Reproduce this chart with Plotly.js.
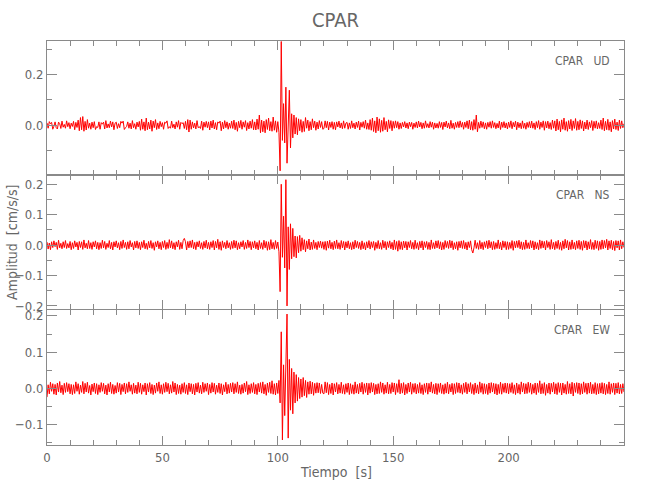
<!DOCTYPE html>
<html>
<head>
<meta charset="utf-8">
<script src="https://cdn.plot.ly/plotly-3.0.1.min.js"></script>
<style>html,body{margin:0;padding:0;background:#fff;}#chart{width:650px;height:500px;}</style>
</head>
<body>
<div id="chart"></div>
<script>
// Sampling interval of the records (s)
const dt = 0.5;
const station = "CPAR";
const components = ["UD", "NS", "EW"];

// Acceleration records, in units of 0.001 cm/s/s, one sample every dt seconds (0 .. 250 s)
const udMilli = [
 9,-12,14,5,11,-16,-4,13,-10,-15,12,6,-13,16,-8,3,-12,17,-6,10,
 -14,8,-5,15,-18,11,-9,20,-22,30,-18,34,-24,15,-19,22,-12,8,-16,12,
 -10,14,-17,-6,-9,13,-16,10,4,12,-15,18,-11,5,-10,16,-7,13,-18,8,
 12,-13,6,-10,15,8,16,-17,-10,-5,13,-12,8,-15,18,-10,6,-16,12,-7,
 15,-20,24,-16,13,-22,28,-18,12,-15,20,-24,16,-10,22,-17,9,-14,15,-6,
 10,-16,12,8,17,-13,-6,-12,16,-10,4,-15,13,-8,18,-16,11,6,10,-13,
 15,-18,22,-27,20,-16,13,-11,8,-15,18,-10,-6,-13,16,-20,12,-8,15,-10,
 13,-19,16,-11,20,-15,10,-18,13,8,16,-22,12,-15,18,-10,13,-16,8,-12,
 16,-13,20,-18,11,-24,15,-10,19,-16,13,-8,18,-21,10,-15,16,-12,22,-18,
 13,-19,24,-16,40,-30,20,-26,16,-30,22,-17,28,-22,14,-24,32,-20,17,-28,
 14,-28,-180,330,-60,85,-70,150,-150,60,138,-90,45,-50,40,-35,30,-38,25,-22,
 22,-28,15,-25,30,-12,20,-22,14,-18,25,-10,16,-20,12,-15,18,-9,14,-16,
 -13,17,-10,15,-19,12,-9,14,-16,11,-18,13,-7,16,-11,9,-14,17,-12,8,
 11,-16,9,-13,17,-10,8,-15,12,-9,16,-19,11,-8,14,-12,20,-16,9,-17,
 22,-20,28,-25,17,-30,32,-22,25,-28,19,-24,30,-18,15,-26,21,-13,18,-22,
 15,-12,17,-10,14,-16,9,-13,11,-7,14,-11,9,-14,12,-6,11,-16,8,-9,
 13,-11,16,-7,11,-14,9,-12,17,-9,6,-11,14,-8,12,-16,9,-11,7,-12,
 14,-9,11,-17,12,-7,16,-11,9,-14,19,-12,8,-16,11,-9,14,-10,17,-8,
 11,-16,12,-9,17,-14,20,-18,14,-20,22,-16,40,-26,11,-12,16,-9,13,-14,
 9,-16,11,-8,14,-12,17,-9,10,-14,7,-11,16,-17,12,-9,14,-11,9,-15,
 12,-9,17,-14,11,-7,16,-18,12,-10,9,-14,17,-12,8,-16,11,-9,14,-11,
 16,-12,9,-17,14,-10,18,-16,12,-9,17,-20,14,-11,16,-14,10,-17,20,-12,
 17,-23,24,-18,15,-26,21,-16,28,-20,14,-24,18,-15,23,-21,17,-13,26,-20,
 15,-18,21,-13,17,-23,12,-15,20,-17,13,-10,18,-21,15,-12,17,-15,10,-13,
 20,-17,28,-22,15,-18,23,-20,13,-26,18,-15,24,-17,12,-21,20,-13,17,-10,6
];
const nsMilli = [
 10,-13,7,-15,11,-8,14,-5,9,-14,16,-9,6,-12,11,-8,15,-11,5,-9,
 12,-15,8,-11,14,-6,9,-16,12,-8,11,-14,17,-9,6,-12,15,-11,8,-14,
 11,-6,14,-12,9,-15,8,-11,16,-9,12,-14,6,-8,15,-12,9,-16,11,-6,
 14,-9,8,-15,12,-11,17,-8,9,-14,11,-12,15,-6,8,-16,12,-9,14,-11,
 9,-15,11,-8,16,-12,6,-14,12,-9,15,-11,8,-17,11,-6,14,-12,9,-15,
 12,-8,15,-14,9,-11,18,-9,14,-12,8,-15,11,-6,16,-14,9,-12,15,22,
 11,-16,12,-9,14,-8,17,-12,9,-15,11,-6,14,-11,8,-14,12,-9,16,-12,
 9,-14,11,-8,15,-16,12,-9,19,-14,11,-17,14,-8,9,-12,15,-9,8,-14,
 12,-11,16,-9,14,-15,8,-12,11,-6,15,-14,9,-11,17,-8,12,-15,11,-9,
 14,-12,9,-16,15,-11,8,-14,16,-9,12,-17,11,-15,18,-12,9,-14,15,-11,
 10,-22,-153,200,-40,95,-75,215,-200,60,-80,70,-45,55,-38,30,-42,28,-25,32,
 -20,24,-15,18,-22,14,-12,20,-16,10,-14,17,-11,9,-15,12,-8,13,-10,11,
 -14,12,-17,13,-10,16,-12,9,-15,13,-11,17,-12,8,-14,15,-9,12,-16,11,
 -9,14,-12,8,-15,11,-13,16,-8,12,-11,9,-15,14,-12,8,-16,11,-9,15,
 -13,11,-8,12,-17,9,-11,15,-12,8,-14,16,-9,12,-15,11,-8,14,-12,9,
 -16,17,-14,12,-20,15,-14,11,-15,13,-9,12,-16,11,-8,15,-12,9,-14,16,
 -11,8,-15,12,-9,14,-16,11,-8,12,-14,9,-15,17,-11,8,-12,14,-9,15,
 -12,11,-16,9,-14,15,-8,12,-11,16,-9,14,-15,8,-12,11,-17,12,-9,14,
 -11,15,-12,9,-16,11,-8,14,-15,-26,-9,16,-11,8,-14,15,-12,9,-15,11,
 -8,14,-12,16,-9,11,-15,12,-14,8,-11,17,-12,9,-16,14,-8,12,-15,11,
 -14,9,-11,15,-17,12,-9,14,-8,16,-12,11,-15,9,-14,17,-11,8,-12,15,
 -9,14,-16,11,-12,8,-15,17,-11,14,-9,12,-16,15,-8,11,-14,18,-12,9,
 -15,12,-11,16,-14,9,-17,14,-12,19,-9,15,-16,11,-14,17,-12,9,-15,14,
 -11,16,-14,12,-17,15,-9,14,-16,11,-12,18,-14,9,-15,16,-11,14,-17,12,
 -14,17,-12,15,-9,19,-16,14,-11,16,-15,12,-18,15,-9,14,-16,17,-12,11,-8
];
const ewMilli = [
 -24,10,-15,17,-8,13,-16,11,-18,15,-10,19,-12,9,-17,14,-11,16,-9,13,
 -15,11,-17,10,-14,18,-8,13,-16,9,-11,19,-15,14,-10,17,-13,8,-18,12,
 -9,15,-14,13,-17,10,-11,16,-8,14,-15,9,-18,13,-10,17,-14,11,-16,8,
 -13,16,-10,14,-17,11,-9,15,-15,13,-11,18,-8,10,-16,14,-13,9,-15,17,
 -11,14,-16,10,-9,15,-18,13,-10,16,-14,11,-17,9,-13,15,-8,18,-14,10,
 -16,13,-11,17,-9,14,-15,10,-13,19,-10,15,-17,11,-14,9,-16,13,-11,16,
 -14,10,-17,15,-9,13,-15,11,-18,14,-10,16,-13,9,-15,17,-11,13,-8,15,
 -17,11,-13,16,-10,14,-16,9,-11,15,-14,13,-18,10,-9,17,-15,11,-13,14,
 -10,16,-15,13,-11,18,-14,9,-16,11,-13,15,-9,19,-17,10,-14,13,-11,16,
 -15,11,-17,14,-10,16,-13,18,-15,11,-19,15,-11,17,-14,21,-16,13,-18,15,
 -14,22,-40,156,-142,65,-75,50,205,-137,80,-60,55,-70,45,-40,38,-35,30,-28,
 26,-24,30,-20,22,-25,18,-16,20,-15,17,-19,14,-13,16,-12,15,-14,11,-13,
 -15,18,-12,16,-17,11,-14,15,-18,13,-10,16,-15,11,-13,17,-14,10,-16,13,
 -11,15,-17,13,-14,10,-16,18,-13,11,-15,14,-10,17,-16,13,-11,15,-18,14,
 -13,16,-10,14,-17,11,-15,13,-14,18,-11,15,-16,10,-13,17,-15,11,-14,16,
 -10,15,-17,13,-11,24,-15,14,-13,16,-18,11,-14,15,-10,17,-16,13,-11,14,
 -15,11,-13,16,-14,10,-17,13,-11,15,-16,14,-10,18,-13,11,-15,14,-17,13,
 -11,15,-14,10,-16,13,-13,17,-15,11,-10,14,-17,13,-14,16,-11,15,-13,10,
 -16,14,-11,17,-15,13,-10,16,-14,11,-17,15,-13,10,-15,18,-11,14,-16,13,
 -14,11,-17,15,-13,16,-10,14,-15,13,-18,11,-14,17,-16,13,-11,15,-13,14,
 -15,13,-11,16,-14,10,-17,15,-13,11,-16,18,-10,14,-15,13,-14,17,-11,15,
 -16,11,-13,15,-17,14,-11,21,-15,13,-14,16,-19,11,-13,15,-16,14,-10,17,
 -15,13,-17,16,-11,14,-18,15,-13,11,-16,19,-14,13,-15,17,-21,14,-11,16,
 -14,15,-17,13,-15,18,-11,14,-16,15,-13,17,-15,11,-14,16,-17,13,-15,14,
 -13,16,-15,14,-17,11,-14,18,-16,13,-11,15,-17,14,-13,16,-15,11,-14,13,-10
];

const xTickVals = [0, 50, 100, 150, 200];
const xTickText = ["0", "50", "100", "150", "200"];

const toUnits = arr => arr.map(v => v / 1000);
const timeOf = arr => arr.map((_, i) => i * dt);

const FONT = "'Liberation Sans Narrow', 'DejaVu Sans Condensed', 'Arial Narrow', sans-serif";
const TXT = "#666666";
const AX = "#8a8a8a";
const RED = "#ff0000";

const series = [udMilli, nsMilli, ewMilli];
const traces = series.map((s, k) => ({
  type: "scatter", mode: "lines",
  x: timeOf(s), y: toUnits(s),
  xaxis: k === 0 ? "x" : "x" + (k + 1),
  yaxis: k === 0 ? "y" : "y" + (k + 1),
  line: {color: RED, width: 1},
  hoverinfo: "skip", showlegend: false
}));

function xAx(anchor, labels) {
  return {
    anchor: anchor, domain: [0, 1], range: [0, 250],
    tickmode: "array", tickvals: xTickVals, ticktext: xTickText,
    showticklabels: labels,
    ticks: "inside", ticklen: 9, tickwidth: 1, tickcolor: AX,
    minor: {dtick: 10, tick0: 0, ticks: "inside", ticklen: 5, tickwidth: 1, tickcolor: AX, showgrid: false},
    showline: true, linecolor: AX, linewidth: 1, mirror: "ticks",
    showgrid: false, zeroline: false,
    tickfont: {family: FONT, size: 13, color: TXT}
  };
}
function yAx(anchor, domain, range, dtick, minorD) {
  return {
    anchor: anchor, domain: domain, range: range,
    tickmode: "linear", tick0: 0, dtick: dtick, tickformat: ".1f",
    ticks: "inside", ticklen: 10, tickwidth: 1, tickcolor: AX,
    minor: {dtick: minorD, tick0: 0, ticks: "inside", ticklen: 5, tickwidth: 1, tickcolor: AX, showgrid: false},
    showline: true, linecolor: AX, linewidth: 1, mirror: "ticks",
    showgrid: false, zeroline: false,
    tickfont: {family: FONT, size: 13, color: TXT}
  };
}

const yRefs = ["y domain", "y2 domain", "y3 domain"];
const compAnn = components.map((c, k) => ({
  xref: "paper", yref: yRefs[k], x: 0.98, y: 0.85,
  xanchor: "right", yanchor: "middle", showarrow: false,
  text: station + "\u00a0\u00a0\u00a0" + c,
  font: {family: FONT, size: 12, color: TXT}
}));

const layout = {
  width: 650, height: 500,
  margin: {l: 47, r: 26, t: 41, b: 55, pad: 0},
  paper_bgcolor: "#ffffff", plot_bgcolor: "#ffffff",
  title: {text: station, x: 0.5, xref: "paper", y: 0.96, yref: "container", yanchor: "middle",
          font: {family: FONT, size: 20, color: TXT}},
  xaxis: xAx("y", false),
  xaxis2: xAx("y2", false),
  xaxis3: xAx("y3", true),
  yaxis: yAx("x", [0.668, 1], [-0.197, 0.332], 0.2, 0.1),
  yaxis2: yAx("x2", [0.3366, 0.668], [-0.21, 0.23], 0.1, 0.05),
  yaxis3: yAx("x3", [0, 0.334], [-0.156, 0.216], 0.1, 0.05),
  annotations: compAnn.concat([
    {xref: "paper", yref: "paper", x: 0.5, y: -0.067, xanchor: "center", yanchor: "middle",
     showarrow: false, text: "Tiempo\u00a0\u00a0[s]", font: {family: FONT, size: 14, color: TXT}},
    {xref: "paper", yref: "paper", x: -0.061, y: 0.502, xanchor: "center", yanchor: "middle",
     showarrow: false, textangle: -90, text: "Amplitud\u00a0\u00a0[cm/s/s]", font: {family: FONT, size: 14, color: TXT}}
  ])
};

Plotly.newPlot("chart", traces, layout, {displayModeBar: false, staticPlot: true});
</script>
</body>
</html>
